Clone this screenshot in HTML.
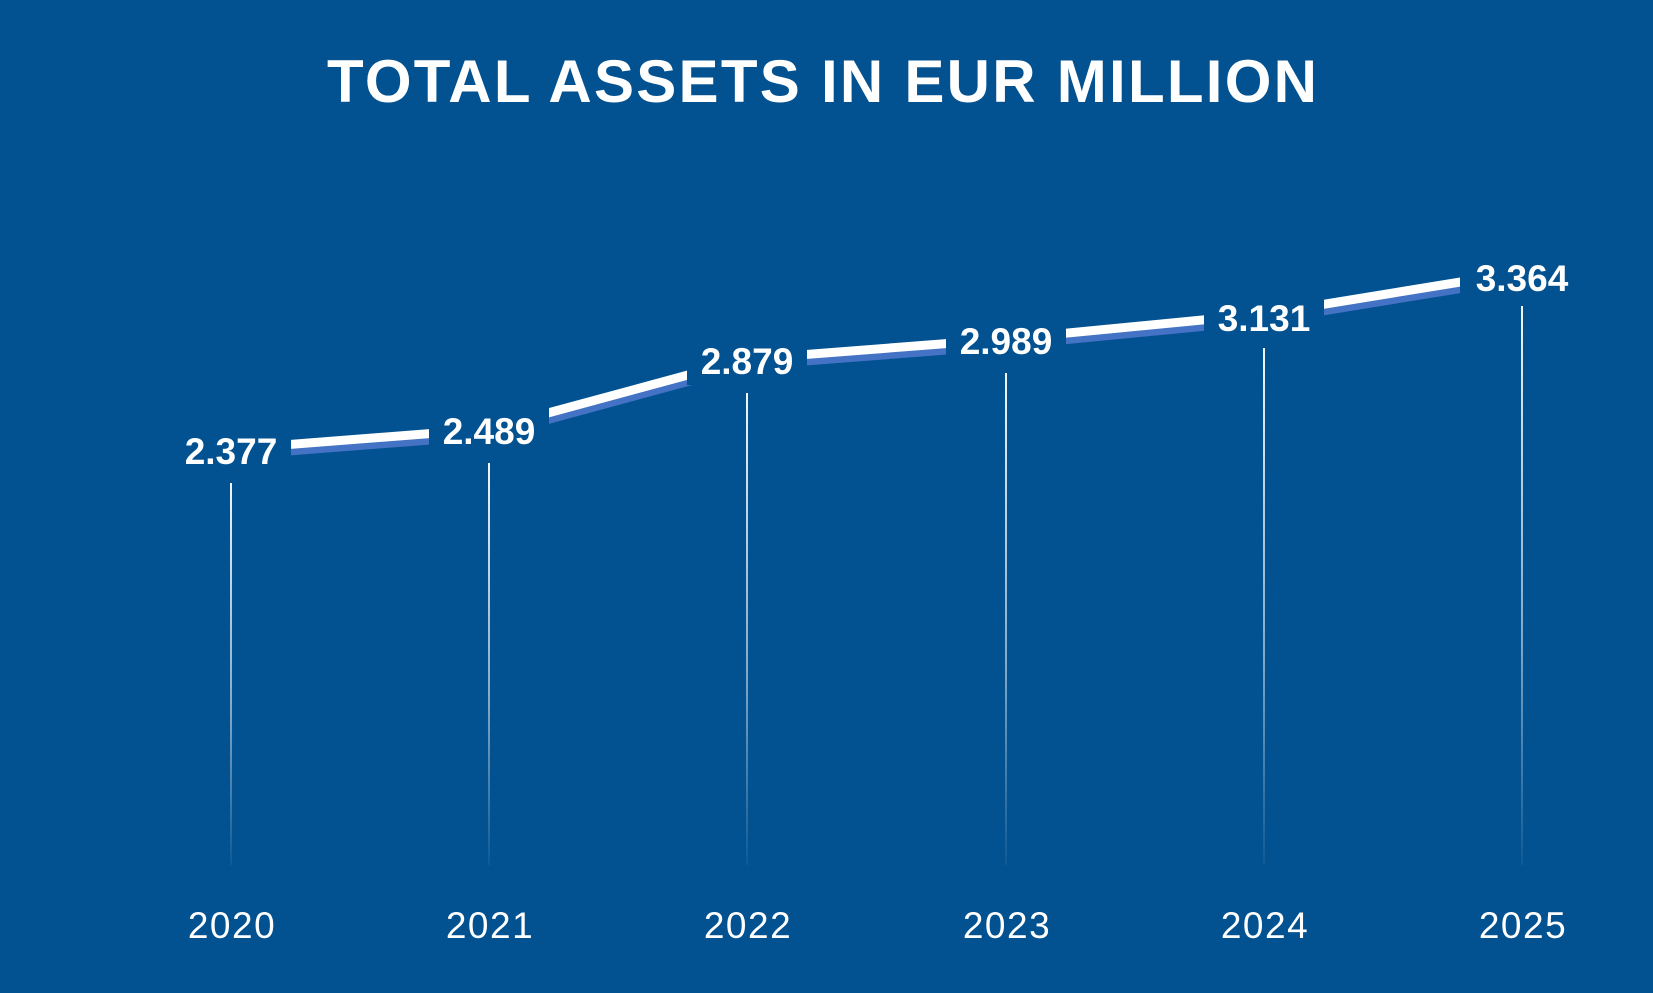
<!DOCTYPE html>
<html><head><meta charset="utf-8"><style>
html,body{margin:0;padding:0;background:#025190;}
svg{display:block;}
</style></head><body>
<svg width="1653" height="993" viewBox="0 0 1653 993" xmlns="http://www.w3.org/2000/svg">
<defs>
<linearGradient id="g" x1="0" y1="0" x2="0" y2="1">
<stop offset="0" stop-color="#ffffff" stop-opacity="0.95"/>
<stop offset="0.6" stop-color="#ffffff" stop-opacity="0.5"/>
<stop offset="1" stop-color="#ffffff" stop-opacity="0.05"/>
</linearGradient>
</defs>
<rect width="1653" height="993" fill="#025190"/>
<text x="822" y="102" text-anchor="middle" font-family="Liberation Sans, sans-serif" font-weight="bold" font-size="60" fill="#fff" textLength="990" lengthAdjust="spacing">TOTAL ASSETS IN EUR MILLION</text>
<g fill="url(#g)">
<rect x="230" y="483" width="2" height="382"/>
<rect x="488" y="463" width="2" height="402"/>
<rect x="746" y="393" width="2" height="472"/>
<rect x="1005" y="373" width="2" height="492"/>
<rect x="1263" y="348" width="2" height="517"/>
<rect x="1521" y="306" width="2" height="559"/>
</g>
<polyline points="231,456 489,436 747,366 1006,346 1264,321 1522,279" fill="none" stroke="#4472C4" stroke-width="8"/>
<polyline points="231,449 489,429 747,359 1006,339 1264,314 1522,272" fill="none" stroke="#fff" stroke-width="9"/>
<g fill="#025190">
<rect x="171" y="425" width="120" height="50"/>
<rect x="429" y="405" width="120" height="50"/>
<rect x="687" y="335" width="120" height="50"/>
<rect x="946" y="315" width="120" height="50"/>
<rect x="1204" y="290" width="120" height="50"/>
<rect x="1460" y="248" width="124" height="48"/>
</g>
<g font-family="Liberation Sans, sans-serif" font-weight="bold" font-size="37" fill="#fff" text-anchor="middle">
<text x="231" y="464">2.377</text>
<text x="489" y="444">2.489</text>
<text x="747" y="374">2.879</text>
<text x="1006" y="354">2.989</text>
<text x="1264" y="331">3.131</text>
<text x="1522" y="291">3.364</text>
</g>
<g font-family="Liberation Sans, sans-serif" font-size="37" fill="#fff" text-anchor="middle" letter-spacing="1.5">
<text x="232" y="938">2020</text>
<text x="490" y="938">2021</text>
<text x="748" y="938">2022</text>
<text x="1007" y="938">2023</text>
<text x="1265" y="938">2024</text>
<text x="1523" y="938">2025</text>
</g>
</svg>
</body></html>
